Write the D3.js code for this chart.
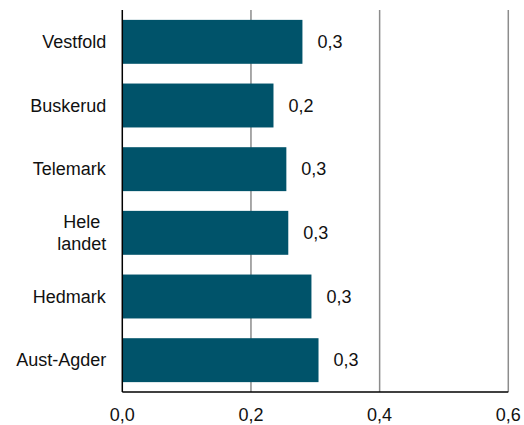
<!DOCTYPE html>
<html><head><meta charset="utf-8">
<script src="https://cdn.jsdelivr.net/npm/d3@7"></script>
<style>body{margin:0;background:#fff}svg{display:block}text{font-family:"Liberation Sans",Arial,sans-serif;font-size:18px;fill:#111}</style>
</head><body>
<svg id="c" width="524" height="425"></svg>
<script>
const categories = [["Vestfold"],["Buskerud"],["Telemark"],["Hele","landet"],["Hedmark"],["Aust-Agder"]];
const values = [0.280, 0.235, 0.255, 0.258, 0.294, 0.305];
const valueLabels = ["0,3","0,2","0,3","0,3","0,3","0,3"];
const ticks = [0, 0.2, 0.4, 0.6];
const tickLabels = ["0,0","0,2","0,4","0,6"];

const svg = d3.select("#c");
const m = {left:122.3, right:508.3, top:10, bottom:392};
const x = d3.scaleLinear().domain([0,0.6]).range([m.left, m.right]);
const y = d3.scaleBand().domain(categories.map((d,i)=>i)).range([m.top, m.bottom]).paddingInner(0.31).paddingOuter(0.155);

// gridlines
svg.append("g").selectAll("line").data(ticks.slice(1)).join("line")
  .attr("x1",d=>x(d)).attr("x2",d=>x(d)).attr("y1",m.top).attr("y2",m.bottom)
  .attr("stroke","#8c8c8c").attr("stroke-width",1.5);

// bars
svg.append("g").selectAll("rect").data(values).join("rect")
  .attr("x",x(0)).attr("y",(d,i)=>y(i)).attr("width",d=>x(d)-x(0)).attr("height",y.bandwidth())
  .attr("fill","#00536a");

// value labels
svg.append("g").selectAll("text").data(values).join("text")
  .attr("x",d=>x(d)+15).attr("y",(d,i)=>y(i)+y.bandwidth()/2).attr("dy","0.35em")
  .text((d,i)=>valueLabels[i]);

// axes
svg.append("line").attr("x1",x(0)).attr("x2",x(0)).attr("y1",m.top).attr("y2",m.bottom).attr("stroke","#000").attr("stroke-width",1.5);
svg.append("line").attr("x1",x(0)).attr("x2",x(0.6)).attr("y1",m.bottom).attr("y2",m.bottom).attr("stroke","#000").attr("stroke-width",1.5);

// x tick labels
svg.append("g").selectAll("text").data(ticks).join("text")
  .attr("x",d=>x(d)).attr("y",m.bottom+23).attr("dy","0.35em").attr("text-anchor","middle")
  .text((d,i)=>tickLabels[i]);

// category labels
const lh = 22;
const cg = svg.append("g");
categories.forEach((lines,i)=>{
  const cy = y(i)+y.bandwidth()/2;
  const t = cg.append("text").attr("text-anchor","middle");
  lines.forEach((ln,j)=>{
    t.append("tspan").attr("x",0).attr("y",cy+(j-(lines.length-1)/2)*lh).attr("dy","0.35em").text(ln);
  });
  const w = t.node().getBBox().width;
  t.selectAll("tspan").attr("x", x(0)-16-w/2);
});
</script>
</body></html>
